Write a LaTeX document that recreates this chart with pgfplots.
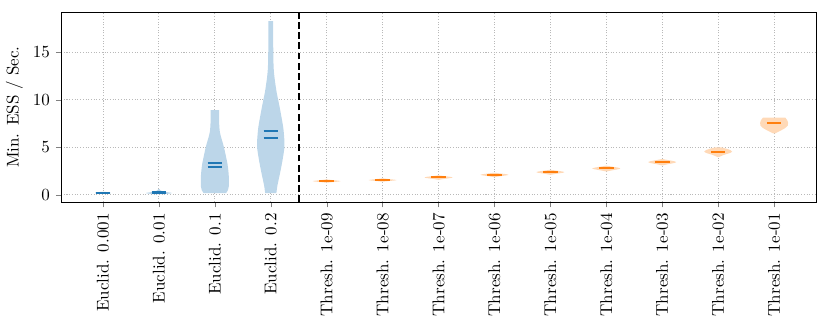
\documentclass[border=0pt]{standalone}
\usepackage{pgfplots}
\pgfplotsset{compat=1.18}
\usepgfplotslibrary{fillbetween}
\usepackage{pgfplotstable}

\definecolor{c0}{HTML}{1F77B4}
\definecolor{c1}{HTML}{FF7F0E}
\definecolor{c0fill}{RGB}{188,214,233}
\definecolor{c1fill}{RGB}{255,217,183}

% violin profiles: y and half width w
\pgfplotstableread{
y w
0.10 0.08
0.17 0.14
0.22 0.13
0.30 0.05
}\vA
\pgfplotstableread{
y w
0.08 0.12
0.15 0.22
0.20 0.23
0.27 0.15
0.35 0.07
0.45 0.03
0.60 0.01
}\vB
\pgfplotstableread{
y w
0.18 0.20
0.50 0.235
0.90 0.25
1.90 0.25
2.60 0.24
3.30 0.225
4.00 0.20
4.70 0.175
5.40 0.145
6.10 0.11
6.60 0.09
7.20 0.08
8.00 0.075
8.93 0.075
}\vC
\pgfplotstableread{
y w
0.18 0.10
1.00 0.12
2.40 0.17
3.80 0.215
5.00 0.245
5.60 0.245
7.00 0.225
8.40 0.185
9.80 0.14
10.8 0.105
12.2 0.07
13.3 0.052
15.0 0.045
18.3 0.042
}\vD
\pgfplotstableread{
y w
1.27 0.01
1.33 0.10
1.40 0.22
1.44 0.25
1.49 0.20
1.55 0.10
1.62 0.01
}\vE
\pgfplotstableread{
y w
1.38 0.01
1.44 0.10
1.51 0.22
1.55 0.25
1.60 0.20
1.66 0.10
1.73 0.01
}\vF
\pgfplotstableread{
y w
1.58 0.01
1.67 0.10
1.77 0.22
1.83 0.25
1.90 0.20
1.97 0.10
2.04 0.01
}\vG
\pgfplotstableread{
y w
1.86 0.01
1.95 0.10
2.05 0.22
2.11 0.25
2.18 0.20
2.25 0.10
2.32 0.01
}\vH
\pgfplotstableread{
y w
2.11 0.01
2.21 0.10
2.32 0.22
2.39 0.25
2.47 0.20
2.55 0.10
2.63 0.01
}\vI
\pgfplotstableread{
y w
2.46 0.01
2.57 0.10
2.70 0.22
2.78 0.25
2.87 0.20
2.97 0.10
3.06 0.01
}\vJ
\pgfplotstableread{
y w
3.10 0.01
3.22 0.10
3.36 0.22
3.45 0.25
3.55 0.20
3.66 0.10
3.76 0.01
}\vK
\pgfplotstableread{
y w
3.97 0.01
4.20 0.10
4.42 0.22
4.54 0.25
4.70 0.22
4.85 0.15
4.99 0.06
}\vL
\pgfplotstableread{
y w
6.47 0.02
6.65 0.08
7.00 0.19
7.30 0.245
7.60 0.25
7.85 0.235
8.05 0.21
8.12 0.20
}\vM

\newcommand{\violin}[3]{%
  \addplot[draw=none, smooth, name path=R#1, forget plot] table[x expr={#1+\thisrow{w}}, y=y] {#2};
  \addplot[draw=none, smooth, name path=L#1, forget plot] table[x expr={#1-\thisrow{w}}, y=y] {#2};
  \addplot[fill=#3, draw=none, forget plot] fill between[of=R#1 and L#1, reverse=true];
}

\begin{document}
\begin{tikzpicture}
\begin{axis}[
  scale only axis, width=444pt, height=111.8pt,
  xmin=-0.75, xmax=12.75, ymin=-0.78, ymax=19.25,
  xtick={0,1,2,3,4,5,6,7,8,9,10,11,12},
  xticklabels={Euclid. 0.001, Euclid. 0.01, Euclid. 0.1, Euclid. 0.2,
    Thresh. 1e-09, Thresh. 1e-08, Thresh. 1e-07, Thresh. 1e-06, Thresh. 1e-05,
    Thresh. 1e-04, Thresh. 1e-03, Thresh. 1e-02, Thresh. 1e-01},
  xticklabel style={rotate=90, anchor=east},
  ytick={0,5,10,15},
  tick align=outside, tick pos=left, major tick length=3pt,
  grid=major, grid style={gray!55, line width=0.5pt, dash pattern=on 0.6pt off 1pt},
  axis line style={line width=0.6pt},
  ylabel={Min. ESS / Sec.},
  ylabel style={yshift=-1pt},
]
\violin{0}{\vA}{c0fill}
\violin{1}{\vB}{c0fill}
\violin{2}{\vC}{c0fill}
\violin{3}{\vD}{c0fill}
\violin{4}{\vE}{c1fill}
\violin{5}{\vF}{c1fill}
\violin{6}{\vG}{c1fill}
\violin{7}{\vH}{c1fill}
\violin{8}{\vI}{c1fill}
\violin{9}{\vJ}{c1fill}
\violin{10}{\vK}{c1fill}
\violin{11}{\vL}{c1fill}
\violin{12}{\vM}{c1fill}

% means and medians
\addplot[c0, line width=1.2pt] coordinates {(-0.13,0.18) (0.13,0.18)};
\addplot[c0, line width=1.2pt] coordinates {(-0.13,0.21) (0.13,0.21)};
\addplot[c0, line width=1.2pt] coordinates {(0.87,0.22) (1.13,0.22)};
\addplot[c0, line width=1.2pt] coordinates {(0.87,0.27) (1.13,0.27)};
\addplot[c0, line width=1.2pt] coordinates {(1.87,3.38) (2.13,3.38)};
\addplot[c0, line width=1.2pt] coordinates {(1.87,2.89) (2.13,2.89)};
\addplot[c0, line width=1.2pt] coordinates {(2.87,6.75) (3.13,6.75)};
\addplot[c0, line width=1.2pt] coordinates {(2.87,5.95) (3.13,5.95)};
\addplot[c1, line width=1.2pt] coordinates {(3.87,1.44) (4.13,1.44)};
\addplot[c1, line width=1.2pt] coordinates {(4.87,1.55) (5.13,1.55)};
\addplot[c1, line width=1.2pt] coordinates {(5.87,1.83) (6.13,1.83)};
\addplot[c1, line width=1.2pt] coordinates {(6.87,2.11) (7.13,2.11)};
\addplot[c1, line width=1.2pt] coordinates {(7.87,2.39) (8.13,2.39)};
\addplot[c1, line width=1.2pt] coordinates {(8.87,2.78) (9.13,2.78)};
\addplot[c1, line width=1.2pt] coordinates {(9.87,3.45) (10.13,3.45)};
\addplot[c1, line width=1.2pt] coordinates {(10.87,4.54) (11.13,4.54)};
\addplot[c1, line width=1.2pt] coordinates {(11.87,7.53) (12.13,7.53)};

% separator
\addplot[black, line width=1.1pt, dash pattern=on 4pt off 2pt] coordinates {(3.5,-0.78) (3.5,19.25)};
\end{axis}
\pgfresetboundingbox
\path[use as bounding box] (-35.9pt,-76.5pt) rectangle (452.2pt,118.9pt);
\end{tikzpicture}
\end{document}
